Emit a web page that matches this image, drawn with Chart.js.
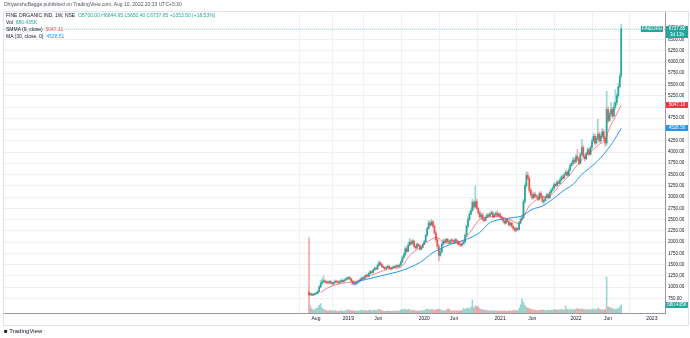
<!DOCTYPE html>
<html>
<head>
<meta charset="utf-8">
<script src="https://cdn.jsdelivr.net/npm/chart.js@4"></script>
<style>
  body { margin: 0; background: #fff; width: 690px; height: 338px; overflow: hidden; position: relative; font-family: "Liberation Sans", Arial, sans-serif; }
  #frame { position: absolute; left: 3px; top: 11px; width: 684px; height: 313px; border: 1px solid #e0e3eb; }
  #wrap { position: absolute; left: 0; top: 0; width: 690px; height: 338px; }
  .txt { position: absolute; font-size: 5px; line-height: 7px; color: #131722; white-space: nowrap; }
  .up { color: #26a69a; } .red { color: #ef5350; } .blue { color: #2196f3; }
</style>
</head>
<body>
<div id="frame"></div>
<div id="wrap"><canvas id="chart" width="690" height="338"></canvas></div>
<div class="txt" style="left:4px;top:1px;color:#50535e">DhiyanshuBagga published on TradingView.com, Aug 10, 2022 20:33 UTC+5:30</div>
<div class="txt" style="left:6px;top:12px">FINE ORGANIC IND, 1W, NSE &nbsp;<span class="up">O5700.00 H6844.95 L5650.40 C6737.85 +1053.50 (+18.53%)</span></div>
<div class="txt" style="left:6px;top:19px">Vol &nbsp;<span class="up">680.435K</span></div>
<div class="txt" style="left:6px;top:26px">SMMA (9, close) &nbsp;<span class="red">5047.11</span></div>
<div class="txt" style="left:6px;top:33px">MA (30, close, 0) &nbsp;<span class="blue">4528.51</span></div>
<div class="txt" style="left:4px;top:328px;font-size:6px;font-weight:bold">&#9632; <span style="font-weight:normal">TradingView</span></div>
<script>
// --- DATA (weekly candles, week 0 = listing week Jul 2018) ---
const listingOpen = 880;
const lastOpen = 5700;

const closes = [
  830, 845, 820, 835, 850, 860, 900,
  1000, 1080, 1120, 1130, 1110,
  1100, 1090, 1120, 1085, 1070, 1105, 1130, 1110, 1095, 1120, 1140, 1125, 1150, 1170, 1190, 1210, 1180,
  1130, 1090, 1065, 1080, 1110,
  1130, 1160, 1200, 1185, 1230, 1260, 1250, 1300, 1340, 1320, 1380, 1420, 1400, 1480, 1540, 1500,
  1450, 1430, 1410, 1440, 1460, 1420, 1400, 1430, 1450, 1440, 1470, 1460, 1490,
  1560, 1650, 1720, 1850, 1790, 1930, 2000,
  1960, 2020, 1900, 1870, 1950, 1920, 1840, 1880, 1950, 2010,
  2150, 2300, 2420, 2380, 2450, 2350,
  2200, 2050, 1900, 1700, 1780,
  1950, 2020, 2000, 2060, 2010, 1990, 2040, 2030, 2000, 2050, 2020,
  1960, 1940, 1930, 1960, 2000,
  2150, 2350, 2500, 2620, 2700, 2880, 2780, 2900, 2750,
  2650, 2560, 2600, 2500, 2480, 2550, 2600,
  2580, 2620, 2650, 2560, 2600, 2640, 2590, 2620, 2560,
  2520, 2470, 2420, 2500, 2450, 2380, 2420, 2350, 2300,
  2260, 2300, 2280, 2420, 2500, 2540,
  2900, 3250, 3480, 3420, 3150,
  3050, 2980, 3060, 3020,
  3000, 2950, 3080, 3020, 2900, 2920, 3000, 3050, 2980, 3100,
  3150, 3200, 3280, 3250, 3330, 3300, 3380,
  3450, 3420, 3500, 3550, 3480, 3600,
  3700, 3750, 3820, 3780, 3900, 3840, 3750,
  3950, 4100, 3900, 3850, 3960, 4050, 3950,
  4100, 4250, 4350, 4200, 4300, 4400, 4250,
  4350, 4450, 4300, 4200,
  4950, 4700, 4850, 4950, 4800, 5000, 5100,
  5250, 5450, 5684.35,
  6737.85
];

const highs = [
  900, 870, 860, 850, 865, 880, 920,
  1030, 1150, 1180, 1250, 1160,
  1140, 1130, 1150, 1140, 1100, 1130, 1160, 1150, 1130, 1150, 1180, 1160, 1180, 1200, 1220, 1240, 1230,
  1190, 1150, 1110, 1100, 1130,
  1150, 1180, 1220, 1230, 1250, 1290, 1280, 1330, 1370, 1360, 1400, 1450, 1440, 1510, 1580, 1560,
  1520, 1480, 1450, 1460, 1490, 1480, 1440, 1450, 1480, 1470, 1500, 1490, 1520,
  1580, 1690, 1760, 1890, 1900, 1990, 2080,
  2040, 2060, 2040, 1930, 1980, 1970, 1940, 1900, 1970, 2040,
  2180, 2330, 2480, 2460, 2505, 2470,
  2380, 2240, 2100, 1950, 1850,
  1980, 2070, 2060, 2090, 2080, 2030, 2060, 2070, 2040, 2080, 2070,
  2040, 1990, 1970, 1980, 2020,
  2180, 2380, 2560, 2680, 2760, 2950, 2920, 3245, 2960,
  2780, 2700, 2650, 2640, 2540, 2580, 2640,
  2640, 2660, 2700, 2680, 2630, 2680, 2690, 2650, 2650,
  2590, 2550, 2500, 2530, 2520, 2470, 2450, 2440, 2370,
  2330, 2330, 2320, 2450, 2540, 2600,
  2950, 3300, 3560, 3550, 3450,
  3200, 3120, 3100, 3110,
  3060, 3040, 3110, 3120, 3040, 2960, 3030, 3090, 3080, 3130,
  3190, 3240, 3320, 3310, 3370, 3360, 3420,
  3490, 3480, 3540, 3600, 3580, 3650,
  3740, 3800, 3880, 3860, 3950, 4060, 3880,
  3990, 4280, 4150, 3950, 3990, 4100, 4080,
  4140, 4300, 4420, 4400, 4350, 4725, 4450,
  4400, 4520, 4500, 4350,
  5350, 5000, 4900, 5100, 5000, 5100, 5390,
  5300, 5520, 5750,
  6844.95
];

const lows = [
  800, 815, 810, 805, 820, 835, 850,
  890, 980, 1060, 1090, 1090,
  1080, 1070, 1080, 1070, 1050, 1060, 1090, 1090, 1080, 1090, 1110, 1100, 1110, 1140, 1160, 1170, 1160,
  1110, 1070, 1040, 1050, 1070,
  1100, 1120, 1150, 1170, 1180, 1220, 1230, 1240, 1290, 1300, 1310, 1370, 1380, 1390, 1470, 1480,
  1430, 1410, 1380, 1400, 1430, 1400, 1380, 1390, 1420, 1420, 1430, 1440, 1450,
  1480, 1540, 1630, 1700, 1770, 1780, 1910,
  1940, 1950, 1880, 1840, 1860, 1900, 1820, 1830, 1870, 1940,
  2000, 2130, 2280, 2340, 2360, 2320,
  2180, 2000, 1850, 1575, 1680,
  1760, 1930, 1970, 1980, 1990, 1960, 1980, 2010, 1980, 1990, 2000,
  1940, 1920, 1900, 1910, 1950,
  1990, 2130, 2320, 2470, 2600, 2680, 2740, 2760, 2720,
  2620, 2520, 2540, 2470, 2440, 2460, 2530,
  2550, 2560, 2600, 2530, 2540, 2580, 2570, 2570, 2530,
  2490, 2440, 2390, 2400, 2420, 2360, 2350, 2320, 2260,
  2220, 2230, 2250, 2270, 2400, 2480,
  2520, 2860, 3200, 3380, 3100,
  3010, 2950, 2960, 2990,
  2970, 2920, 2930, 2990, 2860, 2840, 2900, 2980, 2950, 2970,
  3080, 3120, 3180, 3220, 3240, 3280, 3290,
  3350, 3390, 3410, 3480, 3460, 3470,
  3580, 3680, 3720, 3740, 3760, 3800, 3720,
  3730, 3920, 3880, 3800, 3830, 3940, 3920,
  3930, 4080, 4220, 4150, 4180, 4280, 4200,
  4200, 4320, 4250, 4130,
  4150, 4650, 4680, 4800, 4750, 4780, 4950,
  5050, 5200, 5420,
  5650.40
];

// weekly volume, thousands of shares
const volumesK = [
  6400, 600, 350, 250, 300, 400, 450,
  650, 800, 450, 300, 250,
  200, 150, 250, 180, 150, 170, 220, 150, 130, 180, 200, 150, 170, 190, 250, 280, 200,
  220, 180, 200, 150, 170,
  180, 200, 260, 180, 200, 220, 170, 240, 260, 180, 220, 250, 190, 280, 320, 240,
  200, 170, 150, 160, 180, 150, 140, 160, 170, 150, 180, 160, 200,
  260, 300, 280, 350, 240, 320, 300,
  200, 220, 250, 180, 170, 160, 210, 180, 200, 220,
  280, 340, 300, 250, 320, 260,
  240, 260, 300, 340, 280,
  220, 200, 180, 230, 350, 330, 200, 180, 170, 200, 190,
  180, 170, 200, 220, 420,
  300, 380, 420, 350, 500, 1100, 450, 620, 560,
  520, 380, 300, 280, 250, 220, 240,
  200, 180, 220, 190, 170, 200, 180, 170, 190,
  180, 170, 200, 160, 150, 180, 160, 170, 200,
  220, 200, 180, 400, 700, 1200,
  900, 650, 500, 420, 380,
  300, 280, 250, 240,
  220, 200, 250, 230, 280, 240, 200, 220, 250, 230,
  260, 240, 300, 280, 260, 240, 300,
  320, 280, 260, 600, 300, 280,
  300, 320, 280, 300, 340, 380, 300,
  320, 360, 300, 280, 260, 300, 280,
  280, 300, 340, 300, 280, 420, 320,
  300, 280, 260, 300,
  3060, 500, 480, 420, 380, 300, 340,
  320, 400, 520,
  680.435
];

// SMMA (9, close): [week, value]
const smmaWeeks  = [8, 14, 22, 33, 42, 56, 63, 69, 76, 84, 88, 93, 104, 110, 117, 124, 131, 139, 143, 147, 151, 158, 165, 172, 179, 185, 192, 199, 203, 206, 210, 214];
const smmaValues = [880, 1000, 1080, 1130, 1250, 1420, 1440, 1700, 1880, 2060, 2100, 1980, 2000, 2200, 2500, 2560, 2560, 2480, 2420, 2560, 2800, 2980, 3020, 3270, 3500, 3760, 3980, 4170, 4280, 4540, 4790, 5047.11];

// MA (30, close)
const maWeeks  = [29, 35, 42, 49, 63, 76, 85, 97, 108, 117, 124, 131, 140, 146, 153, 160, 167, 174, 181, 187, 194, 201, 208, 214];
const maValues = [1060, 1136, 1190, 1247, 1360, 1544, 1766, 1950, 2061, 2210, 2432, 2500, 2543, 2580, 2727, 2800, 2950, 3133, 3280, 3504, 3688, 3910, 4207, 4528.51];

// axis ticks
const timeTickWeeks  = [4.8, 27, 47.5, 79, 99.5, 131, 153, 183, 205, 235];
const timeTickLabels = ['Aug', '2019', 'Jun', '2020', 'Jun', '2021', 'Jun', '2022', 'Jun', '2023'];
const priceTicks = [750, 1000, 1250, 1500, 1750, 2000, 2250, 2500, 2750, 3000, 3250, 3500, 3750, 4000, 4250, 4500, 4750, 5000, 5250, 5500, 5750, 6000, 6250, 6500, 6750];

// --- COLOURS ---
const UP = '#26a69a';
const DOWN = '#ef5350';
const UP_WICK = 'rgba(38,166,154,0.45)';
const DOWN_WICK = 'rgba(239,83,80,0.45)';
const UP_VOL = 'rgba(38,166,154,0.45)';
const DOWN_VOL = 'rgba(239,83,80,0.5)';

// --- BUILD DATASETS ---
const n = closes.length;
const opens = closes.map((c, i) => i === 0 ? listingOpen : (i === n - 1 ? lastOpen : closes[i - 1]));
const isUp = closes.map((c, i) => c >= opens[i]);

const bodies = closes.map((c, i) => ({ x: i, y: [opens[i], c] }));
const wicks = closes.map((c, i) => ({ x: i, y: [Math.min(lows[i], opens[i], c), Math.max(highs[i], opens[i], c)] }));
const vols = volumesK.map((v, i) => ({ x: i, y: v }));
const smmaPts = smmaWeeks.map((w, i) => ({ x: w, y: smmaValues[i] }));
const maPts = maWeeks.map((w, i) => ({ x: w, y: maValues[i] }));

const lastClose = closes[n - 1];

// price tags on the right axis
const tagPlugin = {
    id: 'tags',
    afterDatasetsDraw(chart) {
        const { ctx, chartArea, scales } = chart;
        const y = scales.y, yv = scales.yv;

        // dotted last price line
        const ly = y.getPixelForValue(lastClose);
        ctx.save();
        ctx.strokeStyle = 'rgba(38,166,154,0.35)';
        ctx.setLineDash([1, 1]);
        ctx.lineWidth = 1;
        ctx.beginPath();
        ctx.moveTo(chartArea.left, Math.round(ly) + 0.5);
        ctx.lineTo(chartArea.right, Math.round(ly) + 0.5);
        ctx.stroke();
        ctx.setLineDash([]);

        function tag(cy, color, lines, x0, w) {
            const h = lines.length > 1 ? 12 : 6;
            ctx.fillStyle = color;
            ctx.fillRect(x0, Math.round(cy - 3), w, h);
            ctx.fillStyle = '#fff';
            ctx.font = '4.5px "Liberation Sans", Arial';
            ctx.textAlign = 'center';
            ctx.textBaseline = 'middle';
            lines.forEach((t, k) => ctx.fillText(t, x0 + w / 2, Math.round(cy - 3) + 3 + k * 5.5));
        }
        const ax = chartArea.right + 1;
        tag(ly, UP, ['FINEORG'], chartArea.right - 24, 22);
        tag(ly, UP, [lastClose.toFixed(2), '3d 13h'], ax, 22);
        tag(y.getPixelForValue(smmaValues[smmaValues.length - 1]), '#f23645', ['5047.10'], ax, 22);
        tag(y.getPixelForValue(maValues[maValues.length - 1]), '#2196f3', ['4528.50'], ax, 22);
        tag(Math.min(yv.getPixelForValue(volumesK[n - 1]), chartArea.bottom - 6), UP, ['680.435K'], ax, 22);
        ctx.restore();
    }
};

const ctx = document.getElementById('chart').getContext('2d');
new Chart(ctx, {
    type: 'bar',
    data: {
        datasets: [
            { type: 'line', data: smmaPts, borderColor: 'rgba(242,54,69,0.6)', borderWidth: 1, pointRadius: 0, tension: 0.3, yAxisID: 'y', order: 0 },
            { type: 'line', data: maPts, borderColor: '#2196f3', borderWidth: 1, pointRadius: 0, tension: 0.3, yAxisID: 'y', order: 0 },
            { data: bodies, backgroundColor: isUp.map(u => u ? UP : DOWN), barThickness: 1, grouped: false, minBarLength: 1, yAxisID: 'y', order: 1 },
            { data: wicks, backgroundColor: isUp.map(u => u ? UP_WICK : DOWN_WICK), barThickness: 1, grouped: false, yAxisID: 'y', order: 2 },
            { data: vols, backgroundColor: isUp.map(u => u ? UP_VOL : DOWN_VOL), barThickness: 1, grouped: false, yAxisID: 'yv', order: 3 }
        ]
    },
    options: {
        responsive: false,
        animation: false,
        layout: { padding: { left: 4, top: 12, right: 0, bottom: 0 } },
        plugins: { legend: { display: false }, tooltip: { enabled: false } },
        scales: {
            x: {
                type: 'linear',
                min: -209,
                max: 244,
                offset: false,
                afterBuildTicks: s => { s.ticks = timeTickWeeks.map(v => ({ value: v })); },
                afterFit: s => { s.height = 25; },
                ticks: {
                    autoSkip: false,
                    maxRotation: 0,
                    padding: 3,
                    color: '#131722',
                    font: { size: 5, family: '"Liberation Sans", Arial' },
                    callback: (v, i) => timeTickLabels[i]
                },
                grid: { color: '#eef2f7', drawTicks: false },
                border: { color: '#9598a1', width: 1 }
            },
            y: {
                type: 'linear',
                position: 'right',
                min: 423,
                max: 7111,
                afterBuildTicks: s => { s.ticks = priceTicks.map(v => ({ value: v })); },
                afterFit: s => { s.width = 25; },
                ticks: {
                    autoSkip: false,
                    padding: 3,
                    color: '#131722',
                    font: { size: 4.5, family: '"Liberation Sans", Arial' },
                    callback: v => v.toFixed(2)
                },
                grid: { color: '#eef2f7', drawTicks: false },
                border: { color: '#9598a1', width: 1 }
            },
            yv: {
                type: 'linear',
                display: false,
                min: 0,
                max: 25600
            }
        }
    },
    plugins: [tagPlugin]
});
</script>
</body>
</html>
